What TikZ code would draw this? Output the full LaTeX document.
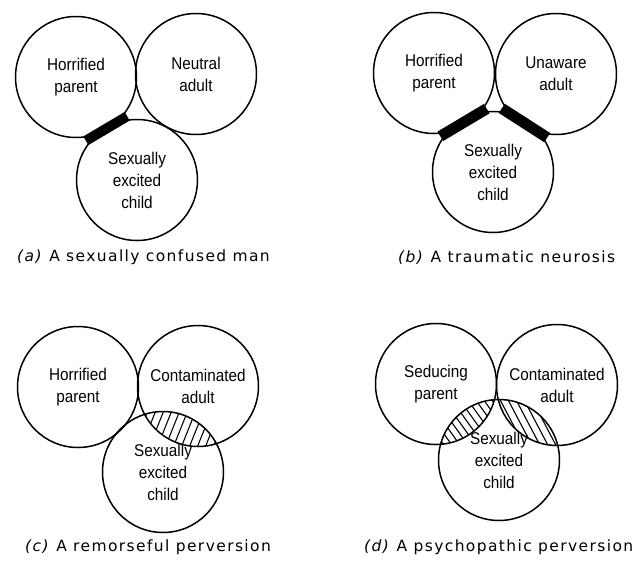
\documentclass[tikz,border=0pt]{standalone}
\usepackage{fontspec}
\setmainfont{Liberation Sans}
\newfontfamily\labfont{Liberation Sans}[FakeStretch=0.9]
\newfontfamily\capfont{DejaVu Sans}[LetterSpace=9]
\usetikzlibrary{calc}
\begin{document}
\begin{tikzpicture}[x=1pt,y=-1pt,
  circ/.style={circle,draw,line width=1.5pt,minimum size=121pt,inner sep=0pt,align=center,
    font=\labfont\fontsize{17}{22}\selectfont},
  barline/.style={line width=#1,line cap=butt},
  hatch/.style={line width=1.1pt},
  captext/.style={anchor=base west,inner sep=0pt,font=\capfont\fontsize{15.5}{18}\selectfont}]
\useasboundingbox (0,0) rectangle (641,566);

% ---------- (a) ----------
\node[circ] (ap) at (76,77) {Horrified\\parent};
\node[circ] (aa) at (196,74) {Neutral\\adult};
\node[circ] (ac) at (137,180) {Sexually\\excited\\child};
\draw[barline=10pt] ($(ap.center)!0.5!(ac.center)!24pt!90:(ac.center)$) -- ($(ap.center)!0.5!(ac.center)!24pt!-90:(ac.center)$);
\node[captext] (acap) at (17,261) {\textit{(a)} A sexually confused man};

% ---------- (b) ----------
\node[circ] (bp) at (434,73) {Horrified\\parent};
\node[circ] (ba) at (556,74) {Unaware\\adult};
\node[circ] (bc) at (493,172) {Sexually\\excited\\child};
\draw[barline=11pt] ($(bp.center)!0.5!(bc.center)!27pt!90:(bc.center)$) -- ($(bp.center)!0.5!(bc.center)!27pt!-90:(bc.center)$);
\draw[barline=11pt] ($(ba.center)!0.5!(bc.center)!27pt!90:(bc.center)$) -- ($(ba.center)!0.5!(bc.center)!27pt!-90:(bc.center)$);
\node[captext] (bcap) at (398,262) {\textit{(b)} A traumatic neurosis};

% ---------- (c) ----------
\node[circ] (cp) at (78,387) {Horrified\\parent};
\node[circ] (ca) at (198,386) {Contaminated\\adult};
\node[circ] (cc) at (163,472) {Sexually\\excited\\child};
\coordinate (cl) at ($(ca.center)!0.5!(cc.center)$);
\begin{scope}
  \clip (ca.center) circle[radius=60.5pt];
  \clip (cc.center) circle[radius=60.5pt];
  \foreach \k in {-8,...,8}
    \draw[hatch] ($(cl)+(\k*8,0)+(-16,40)$) -- ($(cl)+(\k*8,0)+(16,-40)$);
\end{scope}
\node[captext] (ccap) at (25,551) {\textit{(c)} A remorseful perversion};

% ---------- (d) ----------
\node[circ] (dp) at (436,384) {Seducing\\parent};
\node[circ] (da) at (557,385) {Contaminated\\adult};
\node[circ] (dc) at (499,460) {Sexually\\excited\\child};
\coordinate (dl1) at ($(dp.center)!0.5!(dc.center)$);
\coordinate (dl2) at ($(da.center)!0.5!(dc.center)$);
\begin{scope}
  \clip (dp.center) circle[radius=60.5pt];
  \clip (dc.center) circle[radius=60.5pt];
  \foreach \k in {-8,...,8}
    \draw[hatch] ($(dl1)+(\k*8,0)+(-25,-35)$) -- ($(dl1)+(\k*8,0)+(25,35)$);
\end{scope}
\begin{scope}
  \clip (da.center) circle[radius=60.5pt];
  \clip (dc.center) circle[radius=60.5pt];
  \foreach \k in {-8,...,8}
    \draw[hatch] ($(dl2)+(\k*8,0)+(-20,-38)$) -- ($(dl2)+(\k*8,0)+(20,38)$);
\end{scope}
\node[captext] (dcap) at (364,551) {\textit{(d)} A psychopathic perversion};
\end{tikzpicture}
\end{document}
